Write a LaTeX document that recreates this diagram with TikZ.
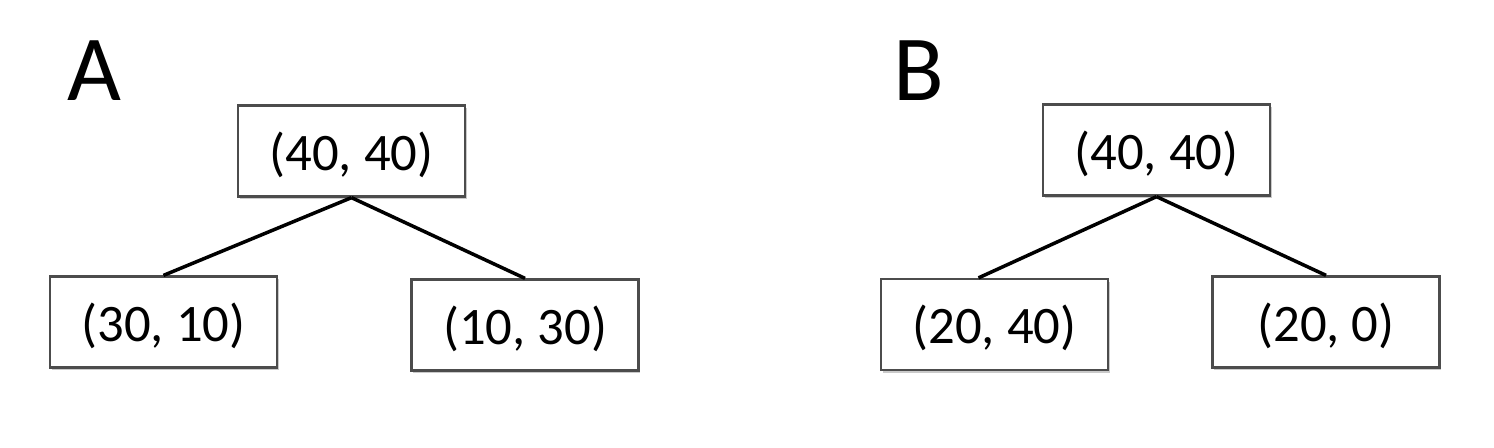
\documentclass[tikz,border=0pt]{standalone}
\usepackage{fontspec}
\setmainfont{Carlito}
\usetikzlibrary{shadows}
\tikzset{
  pair/.style={draw=black!70, line width=1.3pt, fill=white, inner sep=0pt,
    minimum width=4.54cm, minimum height=1.82cm,
    text height=22pt, text depth=0pt,
    font=\fontsize{30}{36}\selectfont,
    drop shadow={shadow xshift=1pt, shadow yshift=-1.5pt, opacity=0.35, fill=black!60}},
  tag/.style={inner sep=0pt, anchor=base west, font=\fontsize{53}{60}\selectfont},
  link/.style={line width=2pt}
}
\begin{document}
\begin{tikzpicture}[x=0.02cm,y=-0.02cm]
\useasboundingbox (0,0) rectangle (1494,447);
% tree A
\node [tag] (labA) at (67,100) {A};
\node [pair] (aroot) at (351.5,151) {(40, 40)};
\node [pair] (aleft) at (163.5,322) {(30, 10)};
\node [pair] (aright) at (525,325) {(10, 30)};
\draw [link] (aroot.south) -- (aleft.north);
\draw [link] (aroot.south) -- (aright.north);
% tree B
\node [tag] (labB) at (893,100) {B};
\node [pair] (broot) at (1156.5,150) {(40, 40)};
\node [pair] (bleft) at (994.5,324.5) {(20, 40)};
\node [pair] (bright) at (1326,322) {(20, 0)};
\draw [link] (broot.south) -- ([xshift=-0.32cm]bleft.north);
\draw [link] (broot.south) -- (bright.north);
\end{tikzpicture}
\end{document}
